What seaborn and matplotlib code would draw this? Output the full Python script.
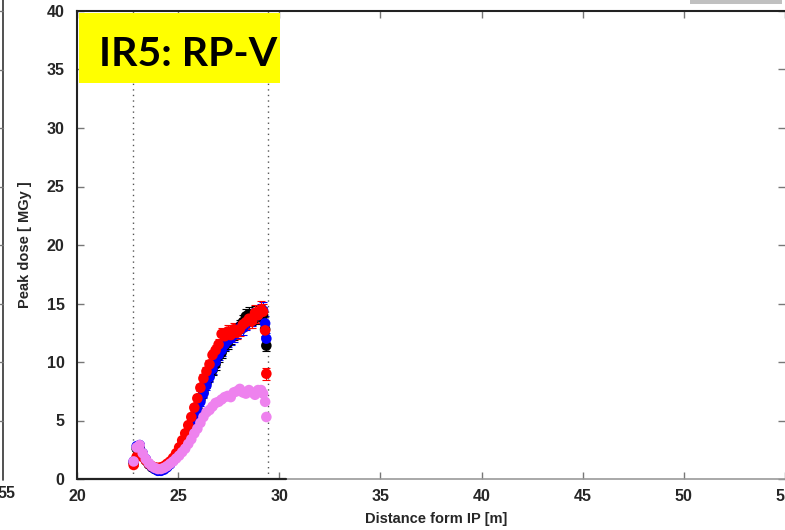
import matplotlib
matplotlib.use("Agg")
import matplotlib.pyplot as plt
from matplotlib.patches import Rectangle
from matplotlib.lines import Line2D
import seaborn as sns
import pandas as pd

# ---------------- data ----------------
distance = [22.8, 22.95, 23.1, 23.25, 23.4, 23.55, 23.7, 23.85, 24.0, 24.15,
            24.3, 24.45, 24.6, 24.75, 24.9, 25.05, 25.2, 25.35, 25.5, 25.65,
            25.8, 25.95, 26.1, 26.25, 26.4, 26.55, 26.7, 26.85, 27.0, 27.15,
            27.3, 27.45, 27.6, 27.75, 27.9, 28.05, 28.2, 28.35, 28.5, 28.65,
            28.8, 28.95, 29.1, 29.2, 29.3, 29.36]
dose_black = [1.4, 2.6, 2.8, 2.1, 1.6, 1.25, 1.0, 0.85, 0.75, 0.75,
              0.85, 1.05, 1.3, 1.6, 2.0, 2.4, 2.9, 3.4, 4.0, 4.6,
              5.3, 6.0, 6.8, 7.4, 8.2, 8.8, 9.3, 9.8, 10.5, 10.8,
              11.4, 11.6, 12.1, 12.4, 12.6, 13.0, 13.4, 13.9, 14.1, 13.8,
              14.1, 13.9, 14.2, 14.0, 12.8, 11.4]
dose_blue = [1.5, 2.8, 2.9, 2.2, 1.7, 1.3, 1.05, 0.85, 0.7, 0.7,
             0.8, 1.0, 1.25, 1.55, 1.9, 2.3, 2.8, 3.3, 3.9, 4.5,
             5.2, 5.9, 6.6, 7.3, 8.0, 8.7, 9.4, 10.0, 10.6, 11.0,
             11.5, 11.8, 12.0, 12.3, 12.6, 12.9, 12.9, 13.3, 13.5, 13.7,
             14.0, 14.0, 14.3, 14.4, 13.3, 12.0]
dose_red = [1.2, 1.9, 2.1, 1.9, 1.6, 1.3, 1.1, 1.0, 0.95, 1.0,
            1.1, 1.3, 1.5, 1.8, 2.2, 2.7, 3.3, 3.9, 4.6, 5.3,
            6.1, 6.9, 7.8, 8.6, 9.2, 9.8, 10.6, 11.0, 11.5, 12.4,
            12.2, 12.6, 12.3, 12.8, 12.5, 12.8, 13.2, 13.4, 13.7, 13.5,
            14.2, 14.0, 14.5, 14.3, 12.7, 9.0]
dose_violet = [1.5, 2.7, 2.9, 2.2, 1.7, 1.35, 1.1, 0.95, 0.85, 0.85,
               0.95, 1.1, 1.3, 1.5, 1.75, 2.0, 2.3, 2.6, 3.0, 3.4,
               3.9, 4.3, 4.8, 5.3, 5.7, 5.9, 6.2, 6.5, 6.6, 6.8,
               7.0, 7.1, 7.0, 7.4, 7.5, 7.7, 7.4, 7.3, 7.6, 7.4,
               7.2, 7.6, 7.6, 7.3, 6.6, 5.3]
dose_err = [0.1, 0.15, 0.15, 0.12, 0.1, 0.1, 0.08, 0.08, 0.08, 0.08,
            0.08, 0.1, 0.1, 0.12, 0.14, 0.16, 0.18, 0.2, 0.22, 0.25,
            0.28, 0.3, 0.32, 0.35, 0.38, 0.4, 0.42, 0.45, 0.47, 0.5,
            0.5, 0.52, 0.52, 0.55, 0.55, 0.56, 0.58, 0.6, 0.6, 0.62,
            0.65, 0.65, 0.7, 0.7, 0.6, 0.5]
series_names = ["black", "blue", "red", "violet"]
series_with_err = ["black", "blue", "red"]
series_colors = {"black": "#000000", "blue": "#0000ff", "red": "#ff0000", "violet": "#ee82ee"}
boundaries = [22.75, 29.42]
x_ticks = [20, 25, 30, 35, 40, 45, 50, 55]
y_ticks = [0, 5, 10, 15, 20, 25, 30, 35, 40]
x_label = "Distance form IP [m]"
y_label = "Peak dose [ MGy ]"
box_label = "IR5: RP-V"

series_values = {"black": dose_black, "blue": dose_blue, "red": dose_red, "violet": dose_violet}
df = pd.concat([pd.DataFrame({"x": distance, "dose": series_values[n], "err": dose_err, "series": n})
                for n in series_names], ignore_index=True)

# ---------------- figure ----------------
sns.set_theme(style="white")
plt.rcParams["font.family"] = ["Liberation Sans", "DejaVu Sans"]

W, H = 785, 530
fig = plt.figure(figsize=(W / 100, H / 100), dpi=100)
ax_l, ax_b, ax_t = 77, 479, 11
ax = fig.add_axes([ax_l / W, (H - ax_b) / H, 1 - ax_l / W, (ax_b - ax_t) / H])

for v in boundaries:
    ax.axvline(v, color="#555555", lw=1.0, ls=(0, (1, 3)), zorder=1)

for n in series_with_err:
    sub = df[df.series == n]
    ax.errorbar(sub.x, sub.dose, yerr=sub.err, fmt="none", ecolor=series_colors[n],
                elinewidth=0.8, capsize=3, capthick=0.8, zorder=2)
sns.scatterplot(data=df, x="x", y="dose", hue="series", hue_order=series_names,
                palette=series_colors, s=58, linewidth=0, legend=False, ax=ax, zorder=3)

ax.set_xlim(20, 54.83)
ax.set_ylim(0, 40)
ax.set_xticks(x_ticks)
ax.set_yticks(y_ticks)
ax.tick_params(axis="both", which="major", direction="in", length=5, width=1,
               color="#777777", top=True, right=True, bottom=True, left=True,
               labelsize=11.5, pad=7)
ax.tick_params(axis="y", pad=9)
for lab in ax.get_xticklabels() + ax.get_yticklabels():
    lab.set_fontweight("bold")

ax.set_xlabel(x_label, fontsize=10.5, fontweight="bold")
ax.set_ylabel(y_label, fontsize=10.5, fontweight="bold")
ax.xaxis.set_label_coords(0.508, -0.07)
ax.yaxis.set_label_coords(-0.064, 0.5)

for s in ["left", "top"]:
    ax.spines[s].set_color("#222222")
    ax.spines[s].set_linewidth(1.5)
ax.spines["right"].set_visible(False)
ax.spines["bottom"].set_color("#999999")
ax.spines["bottom"].set_linewidth(1.2)
ax.plot([20, 30.35], [0, 0], color="#222222", lw=1.6, clip_on=False, zorder=5)

# yellow label box
fig.add_artist(Rectangle((79 / W, (H - 83) / H), 201 / W, 70 / H, facecolor="#ffff00",
                         edgecolor="none", transform=fig.transFigure, zorder=10))
fig.text(99 / W, (H - 55) / H, box_label, fontsize=29.5, fontweight="bold",
         family=["Lato", "DejaVu Sans"], ha="left", va="center", color="black", zorder=11)

# gray bar top right
fig.add_artist(Rectangle((690 / W, (H - 4) / H), 92 / W, 4 / H, facecolor="#c0c0c0",
                         edgecolor="none", transform=fig.transFigure, zorder=10))

# remnant of neighbouring panel at the left edge
fig.add_artist(Line2D([3 / W, 3 / W], [(H - 480) / H, 1.0], color="#333333", lw=1.2,
                      transform=fig.transFigure))
for yv in y_ticks[1:]:
    yp = (H - (479 - yv * 11.7)) / H
    fig.add_artist(Line2D([0, 3 / W], [yp, yp], color="#777777", lw=1,
                          transform=fig.transFigure))
fig.text(6 / W, (H - 493) / H, "55", fontsize=11.5, fontweight="bold", ha="center", va="center")

fig.savefig("out.png", dpi=100, facecolor="white")
